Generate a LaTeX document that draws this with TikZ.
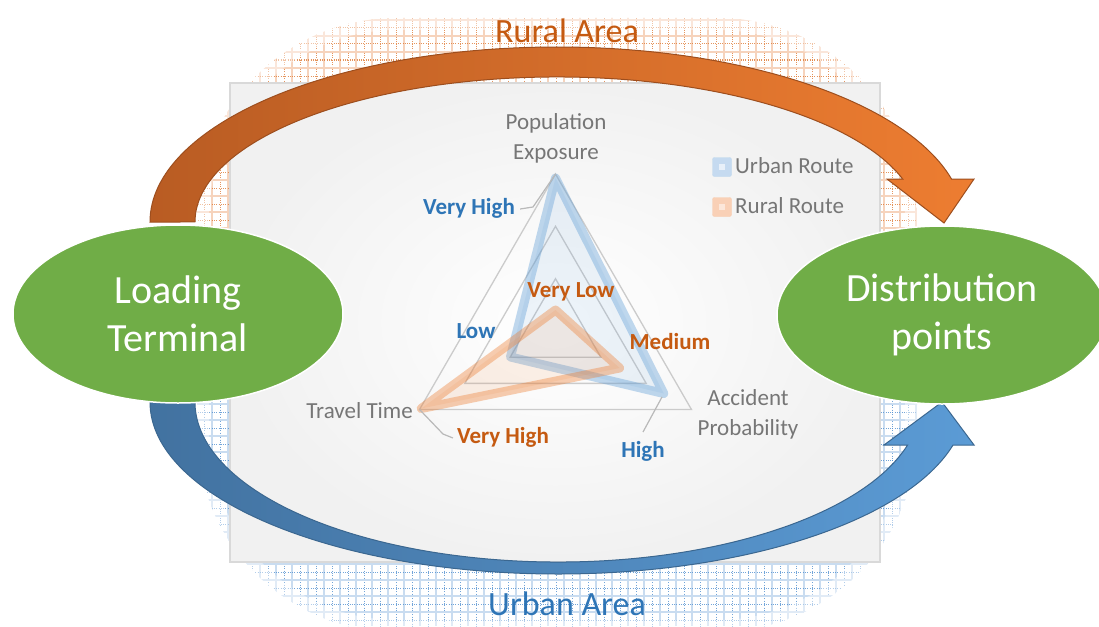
\documentclass[tikz,border=0pt]{standalone}
\usepackage{fontspec}
\setmainfont{Carlito}
\usetikzlibrary{shapes.geometric,calc}
\definecolor{gtxt}{HTML}{767676}
\definecolor{bluet}{HTML}{2E75B6}
\definecolor{oranget}{HTML}{C55A11}
\definecolor{greenc}{HTML}{70AD47}
\definecolor{blueA}{HTML}{5B9BD5}
\definecolor{blueD}{HTML}{4272A0}
\definecolor{orA}{HTML}{ED7D31}
\definecolor{orD}{HTML}{B95C23}
\definecolor{gridc}{HTML}{CBCBCB}
\definecolor{patO}{HTML}{DF7A35}
\definecolor{patOl}{HTML}{F6D3BC}
\definecolor{patB}{HTML}{4F8FD0}
\definecolor{patBl}{HTML}{C9DCF0}
\definecolor{panelO}{HTML}{F1F1F1}
\definecolor{panelB}{HTML}{D9D9D9}
\definecolor{lgBd}{HTML}{BDD7EE}
\definecolor{lgBf}{HTML}{C5DAF0}
\definecolor{lgBi}{HTML}{E8F0F9}
\definecolor{lgOd}{HTML}{F8CBAD}
\definecolor{lgOf}{HTML}{F9D0B6}
\definecolor{lgOi}{HTML}{FCE7DA}
\begin{document}
\begin{tikzpicture}[x=1pt,y=-1pt,
  patdot/.style={line width=1pt, dash pattern=on 1pt off 1.3pt},
  patsol/.style={line width=1.2pt},
  chartlbl/.style={font=\fontsize{23}{30}\selectfont, text=gtxt, align=center, inner sep=0pt},
  blbl/.style={font=\fontsize{23}{28}\selectfont\bfseries, text=bluet, inner sep=0pt, text height=16pt, text depth=5pt},
  olbl/.style={font=\fontsize{23}{28}\selectfont\bfseries, text=oranget, inner sep=0pt, text height=16pt, text depth=5pt},
  leader/.style={draw=gray!55, line width=1.2pt},
  gridtri/.style={draw=gridc, line width=1.3pt},
  termnode/.style={ellipse, fill=greenc, draw=white, line width=1.5pt, minimum width=330pt, minimum height=178pt, inner sep=0pt, text=white, align=center, font=\fontsize{40}{48}\selectfont},
  areatxt/.style={font=\fontsize{34}{40}\selectfont, inner sep=0pt},
  legtxt/.style={font=\fontsize{23}{28}\selectfont, text=gtxt, inner sep=0pt, anchor=west, text height=16pt, text depth=5pt}
]
\useasboundingbox (0,0) rectangle (1099,626);

% background grid pattern (glow)
\begin{scope}
  \clip[rounded corners=200pt] (197,18) rectangle (917,632);
  \begin{scope}
    \clip (0,0) rectangle (1099,320);
    \foreach \x in {196,212,...,920} {
      \draw[patsol, draw=patOl] (\x,0) -- (\x,320);
      \draw[patdot, draw=patO, opacity=0.8] (\x+8,0) -- (\x+8,320);
    }
    \foreach \y in {4,20,...,320} {
      \draw[patsol, draw=patOl] (0,\y) -- (1099,\y);
      \draw[patdot, draw=patO, opacity=0.8] (0,\y+8) -- (1099,\y+8);
    }
  \end{scope}
  \begin{scope}
    \clip (0,320) rectangle (1099,626);
    \foreach \x in {196,212,...,920} {
      \draw[patsol, draw=patBl] (\x,320) -- (\x,626);
      \draw[patdot, draw=patB, opacity=0.8] (\x+8,320) -- (\x+8,626);
    }
    \foreach \y in {324,340,...,626} {
      \draw[patsol, draw=patBl] (0,\y) -- (1099,\y);
      \draw[patdot, draw=patB, opacity=0.8] (0,\y+8) -- (1099,\y+8);
    }
  \end{scope}
  \draw[white, opacity=0.45, line width=24pt, rounded corners=200pt] (197,18) rectangle (917,632);
\end{scope}

% central panel
\shade[inner color=white, outer color=panelO] (230,83) rectangle (880,562);
\draw[draw=panelB, line width=2pt] (230,83) rectangle (880,562);

% radar chart
\begin{scope}[shift={(555.5,331)}]
  \draw[gridtri] (270:157) -- (150:157) -- (30:157) -- cycle;
  \draw[gridtri] (270:104.7) -- (150:104.7) -- (30:104.7) -- cycle;
  \draw[gridtri] (270:52.3) -- (150:52.3) -- (30:52.3) -- cycle;
  % urban route
  \draw[draw=blueA, draw opacity=0.38, fill=blueA, fill opacity=0.11, line width=9pt, line join=round]
    (270:153) coordinate (uPE) -- (30:125) coordinate (uAP) -- (150:52) coordinate (uTT) -- cycle;
  % rural route
  \draw[draw=orA, draw opacity=0.38, fill=orA, fill opacity=0.11, line width=9pt, line join=round]
    (270:21) coordinate (rPE) -- (30:74) coordinate (rAP) -- (150:155) coordinate (rTT) -- cycle;
  \coordinate (apex) at (270:157);
  \coordinate (tt) at (150:157);
\end{scope}

% axis labels
\node[chartlbl] (pe) at (556,138) {Population\\Exposure};
\node[chartlbl] (ap) at (748,414) {Accident\\Probability};
\node[chartlbl, anchor=east, text height=16pt, text depth=5pt] (ttl) at (413,413) {Travel Time};

% value labels
\node[blbl] (bvh) at (469,209) {Very High};
\node[blbl] (blow) at (476,333) {Low};
\node[blbl] (bhigh) at (643,452) {High};
\node[olbl] (ovl) at (571,292) {Very Low};
\node[olbl] (omed) at (670,344) {Medium};
\node[olbl] (ovh) at (503,438) {Very High};

\coordinate (l1) at (533,207);
\coordinate (l2) at (643,432);
\coordinate (l3) at (662,397);
\coordinate (l4) at (443,434);
\draw[leader] ([xshift=5pt]bvh.east) -- (l1) -- (apex);
\draw[leader] (l2) -- (l3);
\draw[leader] (tt) -- (l4) -- ([xshift=-4pt]ovh.west);

% legend
\node[draw=lgBd, fill=lgBf, rounded corners=2pt, minimum size=19pt, inner sep=0pt] (lgu) at (722,167) {};
\node[fill=lgBi, minimum size=6pt, inner sep=0pt] at (lgu) {};
\node[draw=lgOd, fill=lgOf, rounded corners=2pt, minimum size=19pt, inner sep=0pt] (lgr) at (722,207) {};
\node[fill=lgOi, minimum size=6pt, inner sep=0pt] at (lgr) {};
\node[legtxt] (lgut) at (735,168) {Urban Route};
\node[legtxt] (lgrt) at (735,208) {Rural Route};

% rural (orange) curved arrow
\draw[draw=orD!85!black, line width=1pt, left color=orD, right color=orA, line join=miter]
  (150,222) arc[start angle=180, end angle=345.8, x radius=407, y radius=175]
  -- (974,179) -- (944,223) -- (887,179) -- (902.7,179)
  arc[start angle=342.75, end angle=180, x radius=362, y radius=145] -- cycle;

% urban (blue) curved arrow
\draw[draw=blueD!90!black, line width=1pt, left color=blueD, right color=blueA, line join=miter]
  (150,402) arc[start angle=180, end angle=14.48, x radius=408, y radius=172]
  -- (974,445) -- (942,402) -- (884,445) -- (907.6,445)
  arc[start angle=15.59, end angle=180, x radius=363, y radius=160] -- cycle;

% terminals
\node[termnode] (load) at (178,314) {Loading\\Terminal};
\node[termnode] (dist) at (942,315) {Distribution\\points};

% area titles
\node[areatxt, text=oranget, text height=23pt, text depth=7pt] (rural) at (567,34) {Rural Area};
\node[areatxt, text=bluet, text height=23pt, text depth=7pt] (urban) at (567,607) {Urban Area};
\end{tikzpicture}
\end{document}
